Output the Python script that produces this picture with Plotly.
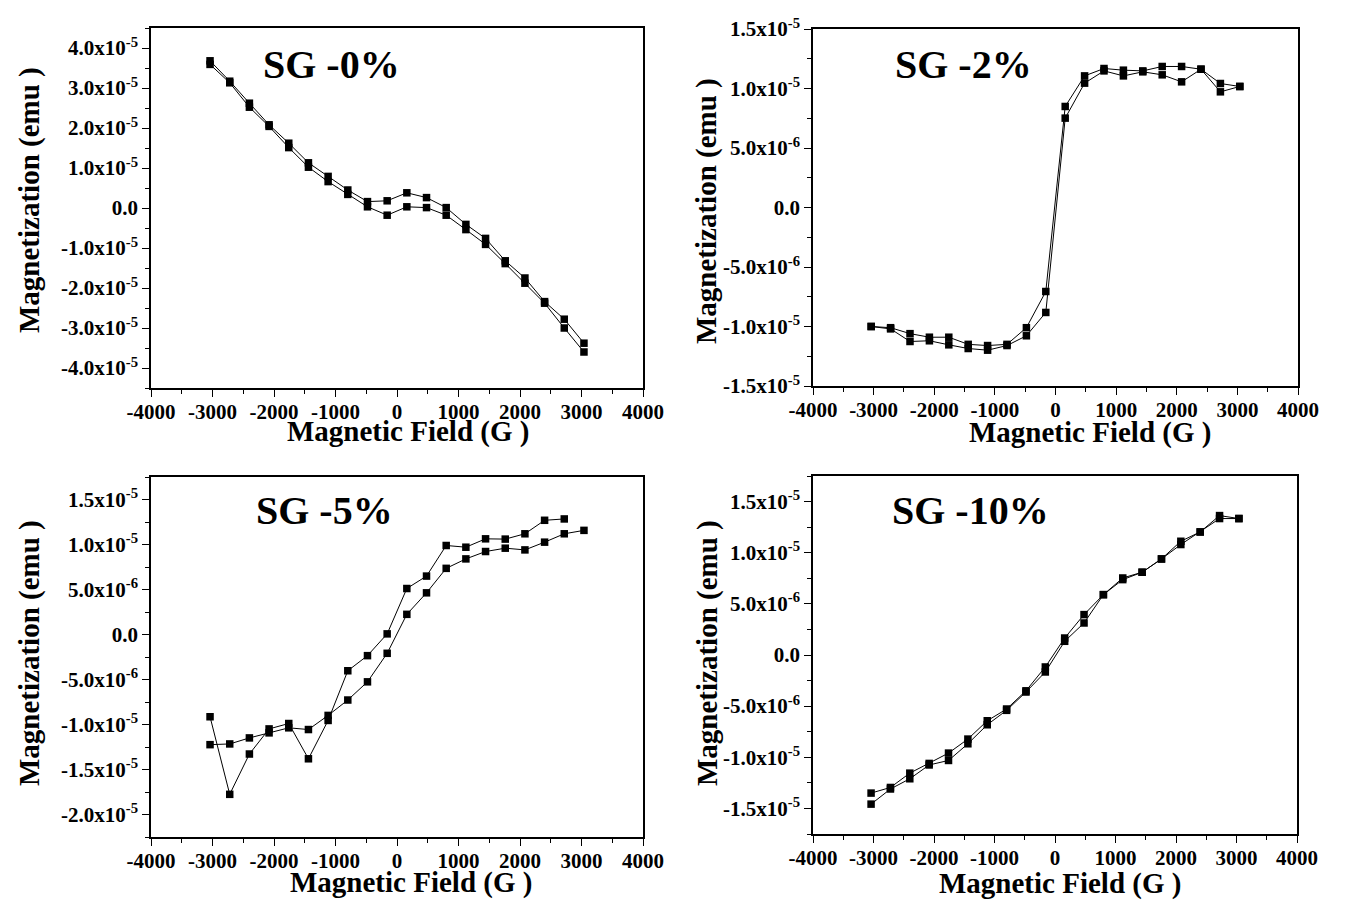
import plotly.graph_objects as go

# Page offset: the browser places the figure 8px from the top-left corner
OFF = 8
W, H = 1348 - 2 * OFF, 902 - OFF

# Magnetic field values (G), shared by all panels
field = [-3040, -2720, -2400, -2080, -1760, -1440, -1120, -800, -480, -160,
         160, 480, 800, 1120, 1440, 1760, 2080, 2400, 2720, 3040]

# SG -0% (emu)
sg0_a = [3.68e-5, 3.17e-5, 2.62e-5, 2.08e-5, 1.62e-5, 1.13e-5, 0.79e-5, 0.45e-5, 0.16e-5, 0.18e-5,
         0.38e-5, 0.26e-5, 0.01e-5, -0.41e-5, -0.76e-5, -1.32e-5, -1.75e-5, -2.34e-5, -2.78e-5, -3.38e-5]
sg0_b = [3.59e-5, 3.13e-5, 2.52e-5, 2.04e-5, 1.51e-5, 1.02e-5, 0.66e-5, 0.34e-5, 0.03e-5, -0.18e-5,
         0.03e-5, 0.01e-5, -0.18e-5, -0.54e-5, -0.91e-5, -1.39e-5, -1.88e-5, -2.38e-5, -3.00e-5, -3.60e-5]

# SG -2% (emu)
sg2_a = [-1.00e-5, -1.01e-5, -1.06e-5, -1.09e-5, -1.09e-5, -1.15e-5, -1.16e-5, -1.15e-5, -1.01e-5, -0.706e-5,
         0.849e-5, 1.106e-5, 1.168e-5, 1.154e-5, 1.148e-5, 1.185e-5, 1.185e-5, 1.162e-5, 1.042e-5, 1.017e-5]
sg2_b = [-1.00e-5, -1.02e-5, -1.126e-5, -1.12e-5, -1.154e-5, -1.185e-5, -1.199e-5, -1.16e-5, -1.078e-5, -0.882e-5,
         0.751e-5, 1.045e-5, 1.148e-5, 1.106e-5, 1.14e-5, 1.115e-5, 1.056e-5, 1.162e-5, 0.972e-5, 1.017e-5]

# SG -5% (emu)
sg5_a = [-0.914e-5, -1.776e-5, -1.328e-5, -1.049e-5, -0.989e-5, -1.381e-5, -0.955e-5, -0.403e-5, -0.235e-5, 0.007e-5,
         0.511e-5, 0.649e-5, 0.989e-5, 0.970e-5, 1.063e-5, 1.060e-5, 1.119e-5, 1.269e-5, 1.284e-5]
sg5_b = [-1.224e-5, -1.216e-5, -1.149e-5, -1.093e-5, -1.037e-5, -1.056e-5, -0.899e-5, -0.728e-5, -0.526e-5, -0.209e-5,
         0.224e-5, 0.463e-5, 0.735e-5, 0.840e-5, 0.922e-5, 0.959e-5, 0.940e-5, 1.026e-5, 1.119e-5, 1.157e-5]

# SG -10% (emu)
sg10_a = [-1.350e-5, -1.295e-5, -1.155e-5, -1.060e-5, -0.959e-5, -0.822e-5, -0.643e-5, -0.528e-5, -0.350e-5, -0.117e-5,
          0.166e-5, 0.395e-5, 0.590e-5, 0.753e-5, 0.809e-5, 0.939e-5, 1.112e-5, 1.203e-5, 1.363e-5, 1.334e-5]
sg10_b = [-1.458e-5, -1.310e-5, -1.210e-5, -1.075e-5, -1.031e-5, -0.868e-5, -0.682e-5, -0.541e-5, -0.362e-5, -0.166e-5,
          0.134e-5, 0.313e-5, 0.590e-5, 0.737e-5, 0.809e-5, 0.939e-5, 1.080e-5, 1.203e-5, 1.334e-5, 1.334e-5]

titles = ["SG -0%", "SG -2%", "SG -5%", "SG -10%"]

# Tick labels
x_tickvals = [-4000, -3000, -2000, -1000, 0, 1000, 2000, 3000, 4000]
x_ticktext = ["-4000", "-3000", "-2000", "-1000", "0", "1000", "2000", "3000", "4000"]

y0_vals = [-4e-5, -3e-5, -2e-5, -1e-5, 0, 1e-5, 2e-5, 3e-5, 4e-5]
y0_text = ["-4.0x10<sup>-5</sup>", "-3.0x10<sup>-5</sup>", "-2.0x10<sup>-5</sup>", "-1.0x10<sup>-5</sup>", "0.0",
           "1.0x10<sup>-5</sup>", "2.0x10<sup>-5</sup>", "3.0x10<sup>-5</sup>", "4.0x10<sup>-5</sup>"]
y2_vals = [-1.5e-5, -1e-5, -5e-6, 0, 5e-6, 1e-5, 1.5e-5]
y2_text = ["-1.5x10<sup>-5</sup>", "-1.0x10<sup>-5</sup>", "-5.0x10<sup>-6</sup>", "0.0",
           "5.0x10<sup>-6</sup>", "1.0x10<sup>-5</sup>", "1.5x10<sup>-5</sup>"]
y5_vals = [-2e-5, -1.5e-5, -1e-5, -5e-6, 0, 5e-6, 1e-5, 1.5e-5]
y5_text = ["-2.0x10<sup>-5</sup>", "-1.5x10<sup>-5</sup>", "-1.0x10<sup>-5</sup>", "-5.0x10<sup>-6</sup>", "0.0",
           "5.0x10<sup>-6</sup>", "1.0x10<sup>-5</sup>", "1.5x10<sup>-5</sup>"]

FONT = "Liberation Serif"

fig = go.Figure()

series = [
    (field, sg0_a, field, sg0_b),
    (field, sg2_a, field, sg2_b),
    (field[:len(sg5_a)], sg5_a, field, sg5_b),
    (field, sg10_a, field, sg10_b),
]
for i, (xa, ya, xb, yb) in enumerate(series):
    ax = "" if i == 0 else str(i + 1)
    for xs, ys in ((xa, ya), (xb, yb)):
        fig.add_trace(go.Scatter(
            x=xs, y=ys, mode="lines+markers",
            xaxis="x" + ax, yaxis="y" + ax,
            line=dict(color="black", width=1),
            marker=dict(symbol="square", size=7.5, color="black",
                        line=dict(color="black", width=0)),
            showlegend=False, hoverinfo="x+y",
        ))

def px(v):
    return (v - OFF) / W

def py(v):
    return 1 - (v - OFF) / H

# panel boxes in screen pixels: (left, right, top, bottom)
boxes = [(151, 643, 28, 388), (813, 1298, 29, 386), (151, 643, 477, 837), (813, 1297, 476, 834)]
yranges = [[-4.5e-5, 4.5e-5], [-1.5e-5, 1.5e-5], [-2.25e-5, 1.75e-5], [-1.75e-5, 1.75e-5]]
yticks = [(y0_vals, y0_text, 5e-6), (y2_vals, y2_text, 2.5e-6), (y5_vals, y5_text, 2.5e-6), (y2_vals, y2_text, 2.5e-6)]

layout = dict(
    width=W, height=H,
    margin=dict(l=0, r=0, t=0, b=0, autoexpand=False),
    paper_bgcolor="white", plot_bgcolor="white",
    showlegend=False,
)
tickfont = dict(family=FONT, size=21, color="black", weight="bold")
for i, (l, r, t, b) in enumerate(boxes):
    ax = "" if i == 0 else str(i + 1)
    tv, tt, mdt = yticks[i]
    layout["xaxis" + ax] = dict(
        domain=[px(l), px(r)], anchor="y" + ax, range=[-4000, 4000],
        tickmode="array", tickvals=x_tickvals, ticktext=x_ticktext,
        ticks="outside", ticklen=7, tickwidth=1.2, tickcolor="black",
        minor=dict(ticks="outside", ticklen=4, dtick=500, tick0=0, tickcolor="black", tickwidth=1.2),
        showline=True, linecolor="black", linewidth=1.5, mirror=True,
        showgrid=False, zeroline=False, tickfont=tickfont, automargin=False,
        ticklabelstandoff=-3,
    )
    layout["yaxis" + ax] = dict(
        domain=[py(b), py(t)], anchor="x" + ax, range=yranges[i],
        tickmode="array", tickvals=tv, ticktext=tt,
        ticks="outside", ticklen=7, tickwidth=1.2, tickcolor="black",
        minor=dict(ticks="outside", ticklen=4, dtick=mdt, tick0=0, tickcolor="black", tickwidth=1.2),
        showline=True, linecolor="black", linewidth=1.5, mirror=True,
        showgrid=False, zeroline=False, tickfont=tickfont, automargin=False,
    )

fig.update_layout(**layout)

# Panel labels
label_pos = [(331, 65), (963, 65), (324, 511), (970, 511)]
for (x, y), txt in zip(label_pos, titles):
    fig.add_annotation(text=txt, xref="paper", yref="paper", x=px(x), y=py(y),
                       xanchor="center", yanchor="middle", showarrow=False,
                       font=dict(family=FONT, size=40, color="black", weight="bold"))

# Axis titles
title_font = dict(family=FONT, size=29, color="black", weight="bold")
for (x, y) in [(408, 431), (1090, 432), (411, 882), (1060, 883)]:
    fig.add_annotation(text="Magnetic Field (G )", xref="paper", yref="paper", x=px(x), y=py(y),
                       xanchor="center", yanchor="middle", showarrow=False, font=title_font)
for (x, y) in [(29, 200), (706, 211), (29, 653), (707, 653)]:
    fig.add_annotation(text="Magnetization (emu )", xref="paper", yref="paper", x=px(x), y=py(y),
                       xanchor="center", yanchor="middle", showarrow=False, textangle=-90,
                       font=title_font)

fig.write_html("out.html")
